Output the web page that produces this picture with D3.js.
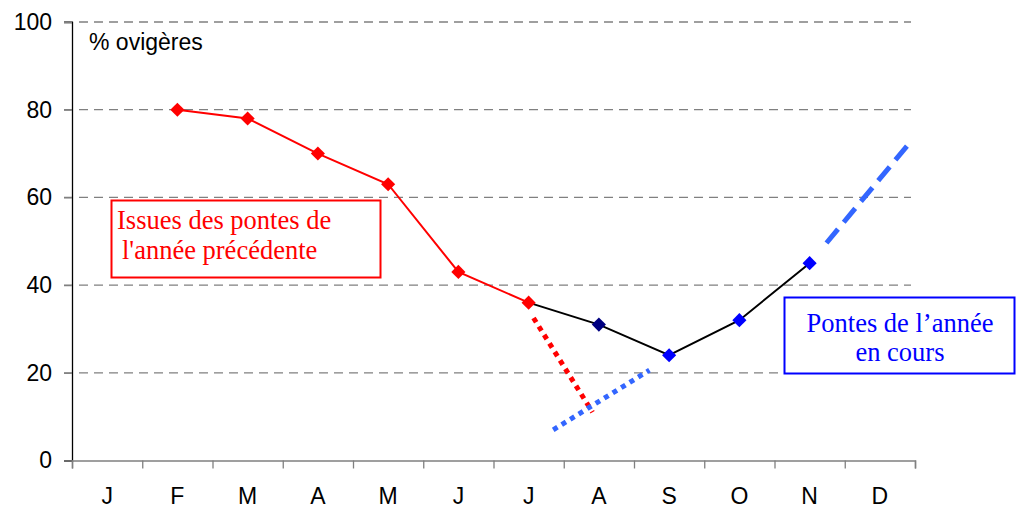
<!DOCTYPE html>
<html><head><meta charset="utf-8">
<script src="https://cdn.jsdelivr.net/npm/d3@7"></script>
<style>body{margin:0;background:#fff}</style>
</head><body>
<svg id="c" width="1017" height="512"></svg>
<script>
// Data
const months = ["J","F","M","A","M","J","J","A","S","O","N","D"];
const yTicks = [0,20,40,60,80,100];
// previous-year cohort (red): month index, value
const prevIdx = [1,2,3,4,5,6];
const prevVals = [80,78,70,63,43,36];
// current-year segment (black line)
const curIdx = [6,7,8,9,10];
const curVals = [36,31,24,32,45];
const curColors = ["#FF0000","#000080","#0000FF","#0000FF","#0000FF"];
// annotation lines in (fractional month position, value)
const redDotted = [[6.57,32.5],[7.41,11]];
const blueDotted = [[6.85,7],[8.22,20.6]];
const blueDashed = [[10.74,49.6],[11.9,72]];

const svg = d3.select("#c");
const x0 = 72, x1 = 915, yTop = 22, yBot = 460.5;
const sans = "Liberation Sans, Arial, sans-serif";
const serif = "Liberation Serif, Times New Roman, serif";
const xb = d3.scaleBand().domain(d3.range(12)).range([x0,x1]).padding(0);
const xl = d3.scaleLinear().domain([0,12]).range([x0,x1]);
const y = d3.scaleLinear().domain([0,100]).range([yBot,yTop]);
const cx = i => xb(i) + xb.bandwidth()/2;

// gridlines
svg.append("g").selectAll("line").data(yTicks.filter(d=>d>0)).join("line")
  .attr("x1",x0-8).attr("x2",x1-4).attr("y1",d=>y(d)).attr("y2",d=>y(d))
  .attr("stroke","#808080").attr("stroke-width",1.3).attr("stroke-dasharray","9,6");

// y axis
const ya = svg.append("g").attr("transform",`translate(${x0},0)`)
  .call(d3.axisLeft(y).tickValues(yTicks).tickSize(8).tickPadding(12));
ya.select(".domain").attr("stroke","#000").attr("stroke-width",1.3);
ya.selectAll(".tick line").attr("stroke","#808080").attr("stroke-width",1.3);
ya.selectAll("text").attr("font-family",sans).attr("font-size",23).attr("fill","#000");

// x axis
const xa = svg.append("g").attr("transform",`translate(0,${yBot})`)
  .call(d3.axisBottom(xl).tickValues(d3.range(13)).tickSize(8).tickFormat(""));
xa.select(".domain").attr("stroke","#808080").attr("stroke-width",1.5);
xa.selectAll(".tick line").attr("stroke","#808080").attr("stroke-width",1.3);
svg.append("g").selectAll("text").data(months).join("text")
  .attr("x",(d,i)=>cx(i)).attr("y",504).attr("text-anchor","middle")
  .attr("font-family",sans).attr("font-size",23).text(d=>d);

svg.append("text").attr("x",89).attr("y",50).attr("font-family",sans)
  .attr("font-size",23).text("% ovigères");

const line = d3.line().x(d=>cx(d[0])).y(d=>y(d[1]));
const lineL = d3.line().x(d=>xl(d[0])).y(d=>y(d[1]));

// annotation lines
svg.append("path").attr("d",lineL(redDotted)).attr("fill","none").attr("stroke","#FF0000")
  .attr("stroke-width",5).attr("stroke-dasharray","5,5");
svg.append("path").attr("d",lineL(blueDotted)).attr("fill","none").attr("stroke","#3366FF")
  .attr("stroke-width",5).attr("stroke-dasharray","5,5");
svg.append("path").attr("d",lineL(blueDashed)).attr("fill","none").attr("stroke","#3366FF")
  .attr("stroke-width",5).attr("stroke-dasharray","18,9");

// series lines
svg.append("path").attr("d",line(prevIdx.map((d,i)=>[d,prevVals[i]]))).attr("fill","none")
  .attr("stroke","#FF0000").attr("stroke-width",2);
svg.append("path").attr("d",line(curIdx.map((d,i)=>[d,curVals[i]]))).attr("fill","none")
  .attr("stroke","#000").attr("stroke-width",2);

const drawMarkers = (idx, vals, colors) => {
  svg.append("g").selectAll("path").data(idx).join("path")
    .attr("transform",(d,i)=>`translate(${cx(d)},${y(vals[i])}) rotate(45)`)
    .attr("d",d3.symbol().type(d3.symbolSquare).size(100))
    .attr("fill",(d,i)=>colors[i]);
};
drawMarkers(prevIdx, prevVals, prevIdx.map(()=> "#FF0000"));
drawMarkers(curIdx.slice(1), curVals.slice(1), curColors.slice(1));

// text boxes
svg.append("rect").attr("x",111.5).attr("y",200.5).attr("width",269).attr("height",77)
  .attr("fill","#fff").attr("stroke","#FF0000").attr("stroke-width",2);
const t1 = svg.append("text").attr("font-family",serif)
  .attr("font-size",26.5).attr("fill","#FF0000");
t1.append("tspan").attr("x",117).attr("y",229).text("Issues des pontes de");
t1.append("tspan").attr("x",122).attr("y",259).text("l'année précédente");

svg.append("rect").attr("x",784.5).attr("y",297.5).attr("width",230).attr("height",76)
  .attr("fill","#fff").attr("stroke","#0000FF").attr("stroke-width",2);
const t2 = svg.append("text").attr("font-family",serif)
  .attr("font-size",26.5).attr("fill","#0000FF").attr("text-anchor","middle");
t2.append("tspan").attr("x",900).attr("y",332).text("Pontes de l’année");
t2.append("tspan").attr("x",900).attr("y",361).text("en cours");
</script>
</body></html>
